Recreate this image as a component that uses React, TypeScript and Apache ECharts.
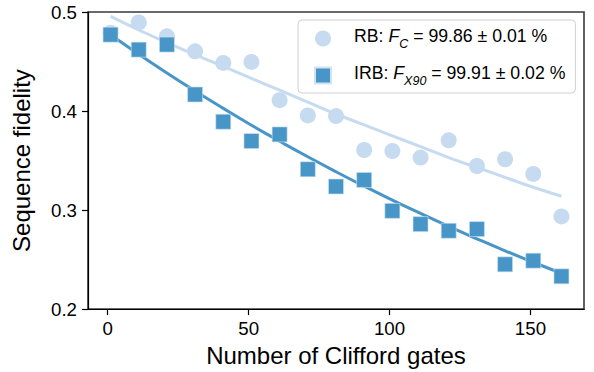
import React, { useEffect, useRef } from "react";
import * as echarts from "echarts";

const gates = [1, 11, 21, 31, 41, 51, 61, 71, 81, 91, 101, 111, 121, 131, 141, 151, 161];
const rbValues = [0.479, 0.4895, 0.4754, 0.4603, 0.4486, 0.4496, 0.411, 0.3956, 0.3949, 0.3606, 0.3596, 0.353, 0.3704, 0.3445, 0.3513, 0.3365, 0.2936];
const irbValues = [0.4771, 0.462, 0.4671, 0.4167, 0.3892, 0.3697, 0.3764, 0.3412, 0.3238, 0.3304, 0.2992, 0.2858, 0.2791, 0.2808, 0.2452, 0.2489, 0.2331];
const rbFit = [0.4956, 0.482, 0.469, 0.457, 0.445, 0.433, 0.421, 0.409, 0.397, 0.386, 0.375, 0.364, 0.353, 0.343, 0.333, 0.323, 0.314];
const irbFit = [0.4771, 0.4574, 0.4384, 0.4202, 0.4027, 0.3857, 0.3695, 0.3538, 0.3387, 0.3241, 0.3101, 0.2966, 0.2835, 0.271, 0.2589, 0.2473, 0.2361];
const xTicks = [0, 50, 100, 150];
const yTicks = [0.2, 0.3, 0.4, 0.5];

const RB_COLOR = "#c6dbef";
const IRB_COLOR = "#4896c8";
const FONT = "Liberation Sans, Arial, sans-serif";

export default function App() {
  const ref = useRef<HTMLDivElement>(null);
  useEffect(() => {
    if (!ref.current) return;
    const chart = echarts.init(ref.current, undefined, { renderer: "svg" });
    const pair = (xs: number[], ys: number[]) => xs.map((x, i) => [x, ys[i]]);
    chart.setOption({
      animation: false,
      textStyle: { fontFamily: FONT },
      grid: {
        left: 88, right: 10, top: 12, bottom: 62,
        show: true, borderColor: "#3a3a3a", borderWidth: 1.6, backgroundColor: "#fff",
      },
      legend: {
        data: ["RB", "IRB"],
        orient: "vertical",
        left: 298,
        top: 20,
        width: 277,
        padding: [7, 10, 6, 16],
        itemWidth: 16,
        itemHeight: 16,
        itemGap: 14,
        backgroundColor: "rgba(255,255,255,0.85)",
        borderColor: "#d0d0d0",
        borderWidth: 1,
        borderRadius: 4,
        formatter: (name: string) =>
          name === "RB"
            ? "{p|RB: }{i|F}{s|C}{n| = 99.86 ± 0.01 %}"
            : "{p|IRB: }{i|F}{s|X90}{n| = 99.91 ± 0.02 %}",
        textStyle: {
          fontFamily: FONT,
          color: "#000",
          rich: {
            p: { fontSize: 17.7, fontFamily: FONT, color: "#000", padding: [0, 0, 5, 18], verticalAlign: "bottom" },
            n: { fontSize: 17.7, fontFamily: FONT, color: "#000", padding: [0, 0, 5, 0], verticalAlign: "bottom" },
            i: { fontSize: 17.7, fontFamily: FONT, color: "#000", fontStyle: "italic", padding: [0, 0, 5, 0], verticalAlign: "bottom" },
            s: { fontSize: 12.5, fontFamily: FONT, color: "#000", fontStyle: "italic", verticalAlign: "bottom" },
          },
        },
      },
      xAxis: {
        type: "value",
        min: -7,
        max: 169,
        name: "Number of Clifford gates",
        nameLocation: "middle",
        nameGap: 30,
        nameTextStyle: { fontSize: 24, color: "#000", fontFamily: FONT },
        splitLine: { show: false },
        axisLine: { show: true, onZero: false, lineStyle: { color: "#000", width: 1.2 } },
        axisTick: { show: true, length: 6, customValues: xTicks, lineStyle: { color: "#000", width: 1.2 } },
        axisLabel: { customValues: xTicks, fontSize: 18.7, color: "#000", margin: 10, fontFamily: FONT },
      },
      yAxis: {
        type: "value",
        min: 0.2,
        max: 0.5,
        interval: 0.1,
        name: "Sequence fidelity",
        nameLocation: "middle",
        nameGap: 55,
        nameTextStyle: { fontSize: 24, color: "#000", fontFamily: FONT },
        splitLine: { show: false },
        axisLine: { show: true, onZero: false, lineStyle: { color: "#000", width: 1.2 } },
        axisTick: { show: true, length: 6, lineStyle: { color: "#000", width: 1.2 } },
        axisLabel: {
          fontSize: 18.7, color: "#000", margin: 11, fontFamily: FONT,
          formatter: (v: number) => (yTicks.some((t) => Math.abs(t - v) < 1e-9) ? v.toFixed(1) : ""),
        },
      },
      series: [
        {
          name: "RB fit", type: "line", data: pair(gates, rbFit), smooth: true, showSymbol: false, symbol: "none",
          lineStyle: { color: RB_COLOR, width: 3 }, z: 1, silent: true,
        },
        {
          name: "IRB fit", type: "line", data: pair(gates, irbFit), smooth: true, showSymbol: false, symbol: "none",
          lineStyle: { color: IRB_COLOR, width: 3 }, z: 1, silent: true,
        },
        {
          name: "RB", type: "scatter", data: pair(gates, rbValues), symbol: "circle", symbolSize: 16,
          itemStyle: { color: RB_COLOR, opacity: 1 }, z: 2,
        },
        {
          name: "IRB", type: "scatter", data: pair(gates, irbValues), symbol: "rect", symbolSize: 15,
          itemStyle: { color: IRB_COLOR, opacity: 1, borderColor: "#cfe3f3", borderWidth: 0.6 }, z: 3,
        },
      ],
    });
    return () => chart.dispose();
  }, []);
  return <div ref={ref} style={{ width: 594, height: 372, position: "absolute", left: 0, top: 0 }} />;
}
